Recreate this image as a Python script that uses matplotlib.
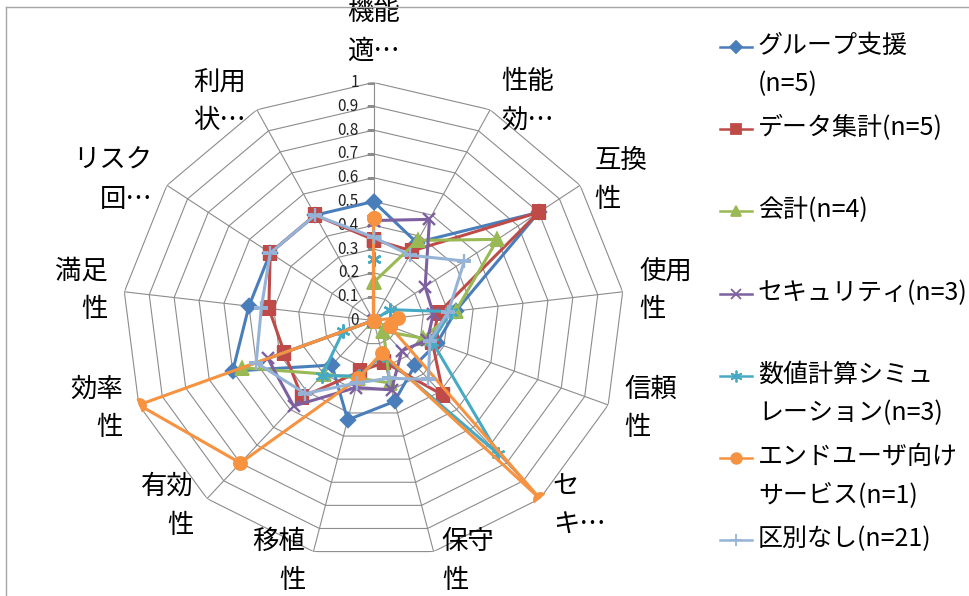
import matplotlib.pyplot as plt
import numpy as np
from matplotlib.lines import Line2D

plt.rcParams['font.family'] = ['Noto Sans CJK JP', 'DejaVu Sans']

# --- data ---
categories = ['機能\n適…', '性能\n効…', '互換\n性', '使用\n性', '信頼\n性', 'セ\nキ…',
              '保守\n性', '移植\n性', '有効\n性', '効率\n性', '満足\n性', 'リスク\n回…', '利用\n状…']

group_support = [0.50, 0.37, 0.80, 0.33, 0.27, 0.25, 0.35, 0.43, 0.25, 0.60, 0.50, 0.50, 0.50]
data_aggregation = [0.34, 0.33, 0.80, 0.26, 0.25, 0.42, 0.18, 0.22, 0.43, 0.38, 0.42, 0.50, 0.50]
accounting = [0.16, 0.38, 0.60, 0.33, 0.21, 0.06, 0.27, 0.25, 0.30, 0.56, 0, 0, 0]
security = [0.42, 0.48, 0.25, 0.24, 0.23, 0.17, 0.30, 0.29, 0.48, 0.45, 0, 0, 0]
simulation = [0.26, 0, 0.08, 0.31, 0.25, 0.75, 0.15, 0.24, 0.31, 0.13, 0, 0, 0]
end_user = [0.43, 0, 0, 0.10, 0.07, 1.00, 0.14, 0.25, 0.80, 1.00, 0, 0, 0]
no_distinction = [0.35, 0.31, 0.44, 0.30, 0.24, 0.33, 0.25, 0.27, 0.41, 0.50, 0.45, 0.50, 0.50]

series_labels = ['グループ支援\n(n=5)', 'データ集計(n=5)', '会計(n=4)', 'セキュリティ(n=3)',
                 '数値計算シミュ\nレーション(n=3)', 'エンドユーザ向け\nサービス(n=1)', '区別なし(n=21)']

ring_levels = [0, 0.1, 0.2, 0.3, 0.4, 0.5, 0.6, 0.7, 0.8, 0.9, 1]
ring_labels = ['0', '0.1', '0.2', '0.3', '0.4', '0.5', '0.6', '0.7', '0.8', '0.9', '1']

# style per series: colour, marker, marker size
styles = [('#4A7EBB', 'D', 7), ('#BE4B48', 's', 8), ('#98B954', '^', 9),
          ('#7D60A0', 'x', 8), ('#46AAC5', (6, 2, 0), 10), ('#F69240', 'o', 9),
          ('#95B3D7', '+', 10)]
all_series = [group_support, data_aggregation, accounting, security,
              simulation, end_user, no_distinction]

W, H = 970, 596
fig = plt.figure(figsize=(W / 100, H / 100), dpi=100)
ax = fig.add_axes([122.5 / W, 1 - 558.5 / H, 502 / W, 476 / H], projection='polar')
ax.set_aspect('auto')
ax.set_theta_zero_location('N')
ax.set_theta_direction(-1)
ax.set_ylim(0, 1)
ax.grid(False)
ax.spines['polar'].set_visible(False)
ax.set_xticks([])
ax.set_yticks([])
ax.patch.set_alpha(0)

n = len(categories)
theta = np.arange(n) * 2 * np.pi / n
theta_c = np.append(theta, theta[0])

grid_col = '#8C8C8C'
for lv in ring_levels[1:]:
    ax.plot(theta_c, np.full(n + 1, lv), color=grid_col, lw=0.8, zorder=1)
for t in theta:
    ax.plot([t, t], [0, 1], color=grid_col, lw=0.8, zorder=1)

# value axis ticks and labels on the top spoke
ax.plot(np.zeros(len(ring_levels)), ring_levels, ls='none', marker=0, ms=5,
        color=grid_col, zorder=1)
for lv, s in zip(ring_levels, ring_labels):
    ax.annotate(s, xy=(0, lv), xytext=(-10.5, 0), textcoords='offset points',
                ha='right', va='center', fontsize=11, color='#222222')

# category labels
for t, lab in zip(theta, categories):
    s, c = np.sin(t), np.cos(t)
    if abs(s) < 1e-6:
        ha, va, off = 'center', 'bottom', (0, 13)
    else:
        ha = 'left' if s > 0 else 'right'
        va = 'center'
        off = (np.sign(s) * (4 + 8 * abs(s)), 7 * c)
    ax.annotate(lab, xy=(t, 1), xytext=off, textcoords='offset points',
                ha=ha, va=va, fontsize=19, linespacing=1.55, color='black')

# series
for values, (col, mk, ms) in zip(all_series, styles):
    v = np.append(values, values[0])
    ax.plot(theta_c, v, color=col, lw=2.2, marker=mk, ms=ms, mec=col, mfc=col,
            mew=1.7, zorder=3)

# legend (Excel style: entries top aligned in equal slots)
x0, x1, xt = 720 / W, 752 / W, 758 / W
for i, (lab, (col, mk, ms)) in enumerate(zip(series_labels, styles)):
    yc = 47 + 82.2 * i
    fig.add_artist(Line2D([x0, (x0 + x1) / 2, x1], [1 - yc / H] * 3, color=col, lw=1.8,
                          marker=mk, ms=ms * 0.85, mec=col, mfc=col, mew=1.3,
                          markevery=[1]))
    fig.text(xt, 1 - (yc - 14) / H, lab, fontsize=18, ha='left', va='top',
             linespacing=1.6)

# chart area frame (only left and top edges are inside the picture)
frame_col = '#A6A6A6'
fig.add_artist(Line2D([6 / W, 6 / W], [0, 1 - 7 / H], color=frame_col, lw=1))
fig.add_artist(Line2D([6 / W, 1], [1 - 7 / H, 1 - 7 / H], color=frame_col, lw=1))

fig.savefig('out.png', dpi=100)
